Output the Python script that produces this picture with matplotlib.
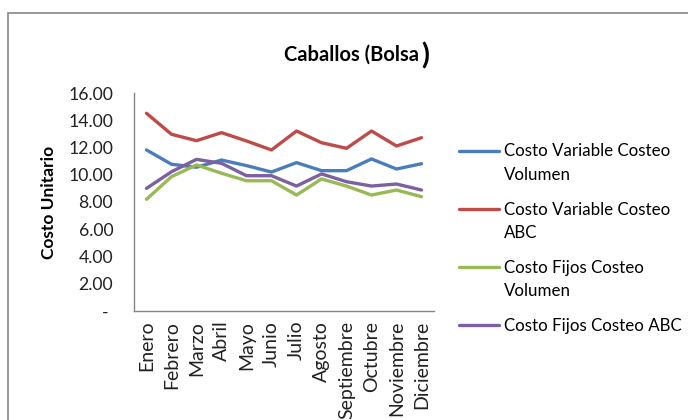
import matplotlib.pyplot as plt
from matplotlib.patches import Rectangle
from matplotlib.legend_handler import HandlerLine2D

plt.rcParams['font.family'] = ['Lato', 'DejaVu Sans']

meses = ['Enero', 'Febrero', 'Marzo', 'Abril', 'Mayo', 'Junio', 'Julio',
         'Agosto', 'Septiembre', 'Octubre', 'Noviembre', 'Diciembre']

var_volumen = [11.82, 10.77, 10.55, 11.08, 10.67, 10.20, 10.89, 10.30, 10.30, 11.16, 10.42, 10.81]
var_abc = [14.51, 12.97, 12.50, 13.09, 12.48, 11.82, 13.21, 12.35, 11.94, 13.21, 12.11, 12.72]
fijos_volumen = [8.20, 9.86, 10.72, 10.11, 9.56, 9.56, 8.51, 9.69, 9.17, 8.51, 8.88, 8.39]
fijos_abc = [9.00, 10.22, 11.13, 10.84, 9.93, 9.93, 9.17, 10.06, 9.49, 9.17, 9.32, 8.88]

series = [
    ('Costo Variable Costeo\nVolumen', var_volumen, '#4A7EBB'),
    ('Costo Variable Costeo\nABC', var_abc, '#BE4B48'),
    ('Costo Fijos Costeo\nVolumen', fijos_volumen, '#98B954'),
    ('Costo Fijos Costeo ABC', fijos_abc, '#7D60A0'),
]

yticks = [0, 2, 4, 6, 8, 10, 12, 14, 16]
yticklabels = ['- '] + ['%.2f' % v for v in yticks[1:]]


class HandlerPrimeraLinea(HandlerLine2D):
    """Coloca la linea del legend a la altura de la primera linea del texto."""
    def __init__(self, desplazamiento, **kw):
        super().__init__(**kw)
        self.desplazamiento = desplazamiento

    def create_artists(self, legend, orig_handle, xdescent, ydescent,
                       width, height, fontsize, trans):
        arts = super().create_artists(legend, orig_handle, xdescent, ydescent,
                                      width, height, fontsize, trans)
        for a in arts:
            a.set_ydata([y + self.desplazamiento for y in a.get_ydata()])
        return arts


fig = plt.figure(figsize=(6.88, 4.2), dpi=100)
# marco del grafico
fig.patches.append(Rectangle((8 / 688, -0.1), 1.0, 1 - 13 / 420 + 0.1,
                             transform=fig.transFigure, fill=False,
                             edgecolor='#868686', linewidth=1.2))

ax = fig.add_axes([134 / 688, 1 - 311 / 420, 300 / 688, 218 / 420])
x = list(range(len(meses)))
lineas = []
for nombre, valores, color in series:
    l, = ax.plot(x, valores, color=color, linewidth=2.4, label=nombre,
                 solid_capstyle='round')
    lineas.append(l)

ax.set_xlim(-0.5, 11.5)
ax.set_ylim(0, 16)
ax.set_yticks(yticks)
ax.set_yticklabels(yticklabels, fontsize=12.7, color='#222222')
ax.set_xticks(x)
ax.set_xticklabels(meses, rotation=90, fontsize=14, color='#222222')
ax.tick_params(axis='y', length=0, pad=15)
ax.tick_params(axis='x', length=0, pad=7)
for lado in ['top', 'right']:
    ax.spines[lado].set_visible(False)
for lado in ['left', 'bottom']:
    ax.spines[lado].set_color('#868686')
    ax.spines[lado].set_linewidth(1.0)

ax.set_ylabel('Costo Unitario', fontsize=12.5, fontweight='bold', labelpad=8)

titulo = fig.text(352 / 688, 1 - 55 / 420, 'Caballos (Bolsa', fontsize=14.5,
                  fontweight='bold', ha='center', va='center')
ax.annotate(')', xy=(1, 0.45), xycoords=titulo, xytext=(1, 0),
            textcoords='offset points', fontsize=21, fontweight='bold',
            ha='left', va='center')

mapa = {}
for l, (nombre, _, _) in zip(lineas, series):
    mapa[l] = HandlerPrimeraLinea(9.5 if '\n' in nombre else 0)

leg = ax.legend(loc='upper left', bbox_to_anchor=(451 / 688, 1 - 135 / 420),
                bbox_transform=fig.transFigure, frameon=False, fontsize=12.2,
                handlelength=2.35, handletextpad=0.3, labelspacing=1.08,
                borderpad=0, handler_map=mapa)
for t in leg.get_texts():
    t.set_linespacing(1.6)

fig.savefig('out.png', dpi=100)
